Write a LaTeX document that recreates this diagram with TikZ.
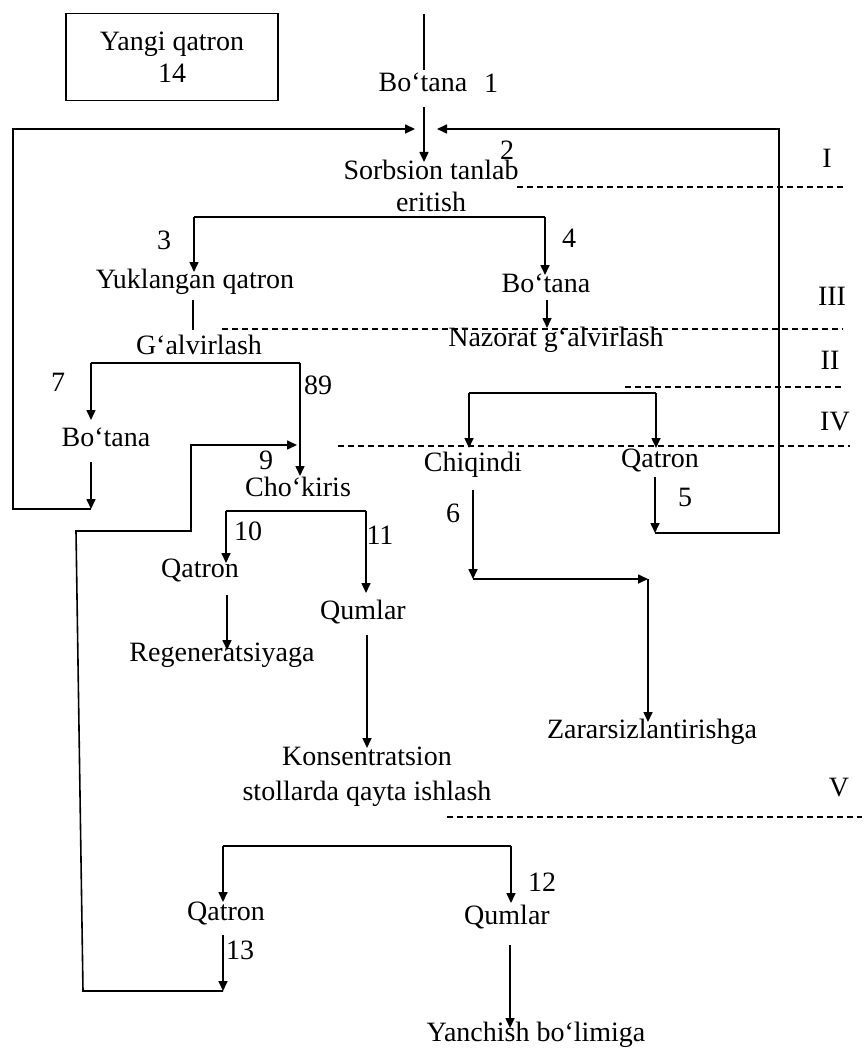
\documentclass[tikz,border=0pt]{standalone}
\usepackage{fontspec}
\setmainfont{Liberation Serif}
\usepackage{tikz}
\usetikzlibrary{arrows}
\usetikzlibrary{arrows.meta}

\begin{document}
\begin{tikzpicture}[x=0.5pt,y=-0.5pt,line width=0.8pt,
  >={Triangle[length=5pt,width=4.5pt]},
  every node/.style={font=\fontsize{14}{16}\selectfont,inner sep=0pt,align=center},
  cut/.style={line width=0.6pt,dash pattern=on 3pt off 2pt}]
\useasboundingbox (0,0) rectangle (865,1048);

\draw (172,57) node(14)[draw,line width=0.7pt,minimum width=106pt,minimum height=43.5pt] {Yangi qatron\\14} ;

\draw (423,82) node(1) {Bo‘tana} ;
\draw (431,186) node(2) {Sorbsion tanlab\\eritish} ;
\draw (195,282) node(3) {Yuklangan qatron} ;
\draw (546,283) node(4) {Bo‘tana} ;
\draw (199,345) node(g) {G‘alvirlash} ;
\draw (556,340) node(nz) {Nazorat g‘alvirlash} ;
\draw (106,437) node(7) {Bo‘tana} ;
\draw (298,487) node(9) {Cho‘kiris} ;
\draw (473,465) node(6) {Chiqindi} ;
\draw (660,460) node(5) {Qatron} ;
\draw (200,570) node(10) {Qatron} ;
\draw (363,612) node(11) {Qumlar} ;
\draw (222,655) node(rg) {Regeneratsiyaga} ;
\draw (367,777) node(ks)[font=\fontsize{14}{17.5}\selectfont] {Konsentratsion\\stollarda qayta ishlash} ;
\draw (652,732) node(zr) {Zararsizlantirishga} ;
\draw (226,913) node(13) {Qatron} ;
\draw (507,917) node(12) {Qumlar} ;
\draw (536,1035) node(yb) {Yanchish bo‘limiga} ;

% oqim raqamlari
\draw (491,83) node(l1) {1} ;
\draw (507,150) node(l2) {2} ;
\draw (164,240) node(l3) {3} ;
\draw (569,238) node(l4) {4} ;
\draw (685,497) node(l5) {5} ;
\draw (453,513) node(l6) {6} ;
\draw (58,382) node(l7) {7} ;
\draw (318,385) node(l89) {89} ;
\draw (266,460) node(l9) {9} ;
\draw (248,531) node(l10) {10} ;
\draw (380,535) node(l11) {11} ;
\draw (542,882) node(l12) {12} ;
\draw (240,950) node(l13) {13} ;

% bosqichlar
\draw (827,158) node(rI) {I} ;
\draw (832,296) node(rIII) {III} ;
\draw (830,360) node(rII) {II} ;
\draw (835,422) node(rIV) {IV} ;
\draw (839,788) node(rV) {V} ;

\draw[cut] (517,187) -- (843,187);
\draw[cut] (222,329) -- (843,329);
\draw[cut] (625,387) -- (843,387);
\draw[cut] (338,446) -- (850,446);
\draw[cut] (447,817) -- (862,817);

\coordinate (feed) at (424,14);  \coordinate (f1) at (424,70);
\coordinate (a1) at (424,107);   \coordinate (a2) at (424,162);
\coordinate (rl) at (415,129);   \coordinate (lc) at (13,129);
\coordinate (lb) at (13,509);    \coordinate (j7) at (91,509);
\coordinate (rr) at (437,129);   \coordinate (rc) at (779,129);
\coordinate (rb) at (779,533);   \coordinate (j5) at (655,533);
\coordinate (s2l) at (194,217);  \coordinate (s2r) at (545,217);
\coordinate (t3) at (194,272);   \coordinate (t4) at (545,275);
\coordinate (y3) at (193,300);   \coordinate (g3) at (193,330);
\coordinate (n4) at (547,300);   \coordinate (n4e) at (547,328);
\coordinate (sgl) at (91,363);   \coordinate (sgr) at (300,363);
\coordinate (t7) at (91,420);    \coordinate (t9) at (300,476);
\coordinate (b7) at (91,462);
\coordinate (j13) at (223,991);  \coordinate (lq) at (83,991);
\coordinate (lp) at (76,531);    \coordinate (lm) at (191,531);
\coordinate (lt) at (191,445);   \coordinate (t9b) at (297,445);
\coordinate (q13) at (223,935);
\coordinate (s9l) at (226,511);  \coordinate (s9r) at (366,511);
\coordinate (t10) at (226,563);  \coordinate (t11) at (366,593);
\coordinate (q10) at (227,595);  \coordinate (t10r) at (227,650);
\coordinate (q11) at (367,635);  \coordinate (t11k) at (367,748);
\coordinate (s6l) at (469,393);  \coordinate (s6r) at (656,393);
\coordinate (t6) at (469,448);   \coordinate (t5) at (656,448);
\coordinate (c6) at (473,490);   \coordinate (j6) at (473,579);
\coordinate (r6) at (648,579);   \coordinate (t6z) at (648,722);
\coordinate (q5) at (655,477);
\coordinate (s13l) at (223,846); \coordinate (s13r) at (511,846);
\coordinate (t13) at (223,902);  \coordinate (t12) at (511,903);
\coordinate (q12) at (510,945);  \coordinate (t12y) at (510,1028);

\draw (feed) -- (f1);
\draw[->] (a1) -- (a2);
\draw[->] (j7) -- (lb) -- (lc) -- (rl);
\draw[->] (j5) -- (rb) -- (rc) -- (rr);

\draw (s2l) -- (s2r);
\draw[->] (s2l) -- (t3);
\draw[->] (s2r) -- (t4);
\draw (y3) -- (g3);
\draw[->] (n4) -- (n4e);

\draw (sgl) -- (sgr);
\draw[->] (sgl) -- (t7);
\draw[->] (sgr) -- (t9);
\draw[->] (b7) -- (j7);

\draw[->] (j13) -- (lq) -- (lp) -- (lm) -- (lt) -- (t9b);
\draw[->] (q13) -- (j13);

\draw (s9l) -- (s9r);
\draw[->] (s9l) -- (t10);
\draw[->] (s9r) -- (t11);
\draw[->] (q10) -- (t10r);
\draw[->] (q11) -- (t11k);

\draw (s6l) -- (s6r);
\draw[->] (s6l) -- (t6);
\draw[->] (s6r) -- (t5);
\draw[->] (c6) -- (j6);
\draw[->] (j6) -- (r6);
\draw[->] (r6) -- (t6z);
\draw[->] (q5) -- (j5);

\draw (s13l) -- (s13r);
\draw[->] (s13l) -- (t13);
\draw[->] (s13r) -- (t12);
\draw[->] (q12) -- (t12y);
\end{tikzpicture}
\end{document}
